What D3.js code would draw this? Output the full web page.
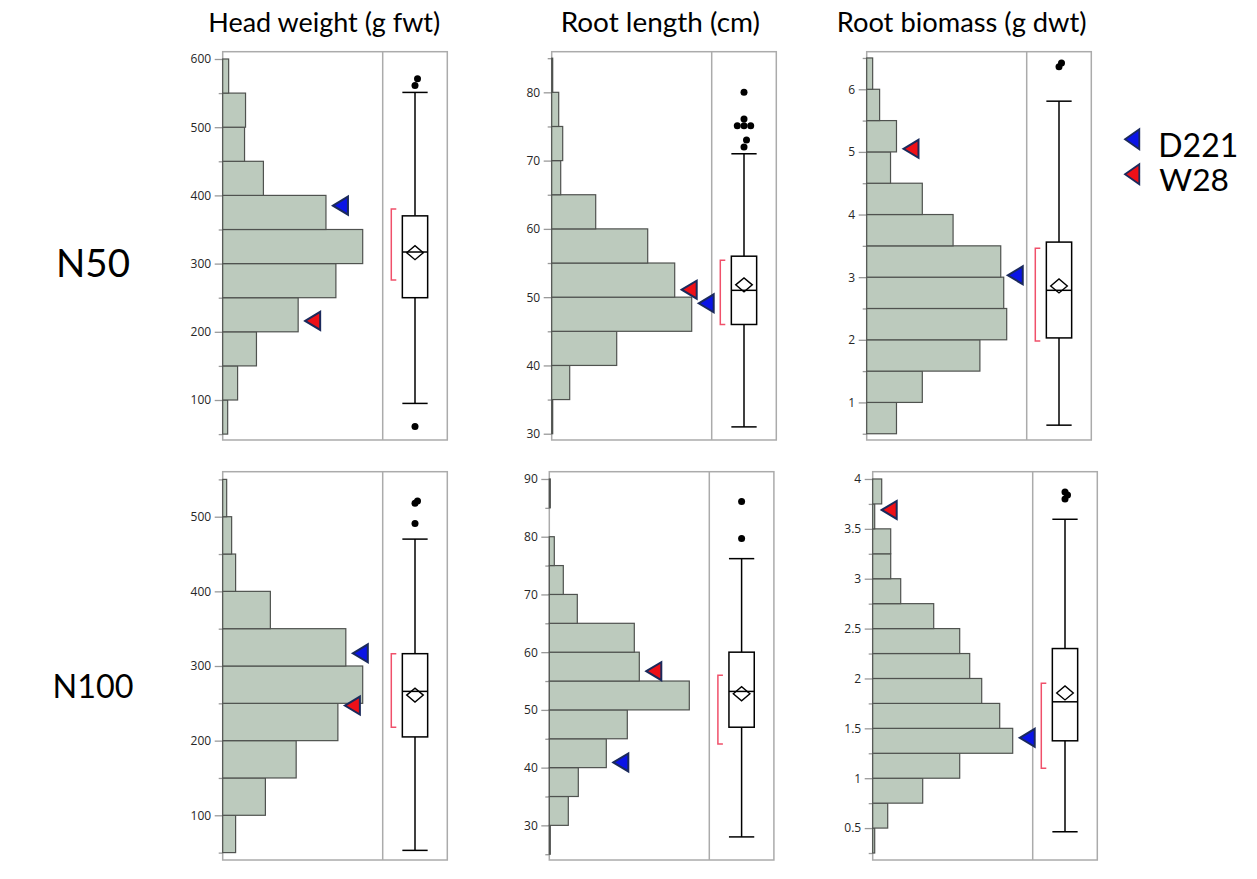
<!DOCTYPE html>
<html>
<head>
<meta charset="utf-8">
<script src="https://cdn.jsdelivr.net/npm/d3@7"></script>
<style>
  body { margin: 0; background: #fff; }
  svg { display: block; }
</style>
</head>
<body>
<svg id="chart" width="1257" height="879"></svg>
<script>
// ---------------- data ----------------
const traits = ["Head weight (g fwt)", "Root length (cm)", "Root biomass (g dwt)"];
const treatments = ["N50", "N100"];
const lineNames = ["D221", "W28"];

// histogram bins: [lower edge of first bin, bin width] and counts per bin
const headN50Bins = [50, 50];
const headN50Counts = [5, 15, 34, 76, 114, 141, 104, 41, 22, 23, 6];
const rootLenN50Bins = [30, 5];
const rootLenN50Counts = [1, 18, 65, 140, 123, 96, 44, 9, 11, 7, 1];
const rootMassN50Bins = [0.5, 0.5];
const rootMassN50Counts = [30, 56, 114, 141, 138, 135, 87, 56, 24, 30, 13, 6];
const headN100Bins = [50, 50];
const headN100Counts = [13, 43, 74, 116, 141, 124, 48, 13, 9, 4];
const rootLenN100Bins = [25, 5];
const rootLenN100Counts = [1, 19, 29, 57, 78, 140, 90, 85, 28, 14, 5, 0, 1];
const rootMassN100Bins = [0.25, 0.25];
const rootMassN100Counts = [2, 15, 50, 87, 140, 127, 109, 97, 87, 61, 28, 18, 18, 2, 9];

// axis tick labels
const headN50Ticks = [100, 200, 300, 400, 500, 600];
const rootLenN50Ticks = [30, 40, 50, 60, 70, 80];
const rootMassN50Ticks = [1, 2, 3, 4, 5, 6];
const headN100Ticks = [100, 200, 300, 400, 500];
const rootLenN100Ticks = [30, 40, 50, 60, 70, 80, 90];
const rootMassN100Ticks = [0.5, 1, 1.5, 2, 2.5, 3, 3.5, 4];

// box plots: [lower whisker, Q1, median, Q3, upper whisker]
const headN50Box = [95, 250, 317, 370, 551];
const rootLenN50Box = [31, 46, 51, 56, 71];
const rootMassN50Box = [0.637, 2.03, 2.79, 3.56, 5.81];
const headN100Box = [53, 205, 266, 316.5, 470];
const rootLenN100Box = [28, 47, 53.2, 60, 76.2];
const rootMassN100Box = [0.463, 1.375, 1.766, 2.30, 3.596];

// means
const headN50Mean = 316, rootLenN50Mean = 51.8, rootMassN50Mean = 2.86;
const headN100Mean = 261, rootLenN100Mean = 52.8, rootMassN100Mean = 1.855;

// shortest half (densest 50%) brackets: [low, high]
const headN50Short = [276, 380];
const rootLenN50Short = [46, 55.4];
const rootMassN50Short = [1.98, 3.46];
const headN100Short = [218, 316.5];
const rootLenN100Short = [44.1, 56];
const rootMassN100Short = [1.10, 1.953];

// outliers
const headN50Outliers = [61, 561, 571];
const rootLenN50Outliers = [72, 73, 75.1, 75.1, 75.1, 76.1, 80];
const rootMassN50Outliers = [6.36, 6.42];
const headN100Outliers = [491, 518, 521];
const rootLenN100Outliers = [79.7, 86.1];
const rootMassN100Outliers = [3.80, 3.84, 3.87];

// values of the two parental lines: [D221, W28]
const headN50Lines = [385, 216];
const rootLenN50Lines = [49.1, 51.1];
const rootMassN50Lines = [3.03, 5.05];
const headN100Lines = [317, 247];
const rootLenN100Lines = [40.9, 56.7];
const rootMassN100Lines = [1.405, 3.69];

// ---------------- layout ----------------
const lineFill = ["#0a14e6", "#ee1018"];
const lineStroke = "#1b2a5c";
const barFill = "#bccabd";
const barStroke = "#4f524f";
const frameColor = "#ababab";
const bracketColor = "#f0506a";

const panelH = 388.3, histW = 160, boxW = 64.6;
const rowTop = [51.7, 471.7];
const colLeft = [[222.7, 551.7, 866.7], [222.7, 549.3, 872.7]];
const yDomains = [
  [[41.35, 610.7], [29.08, 85.95], [0.40, 6.60]],
  [[40.1, 560.3], [24.0, 91.26], [0.18, 4.073]]
];

const panels = [
  [
    { bins: headN50Bins, counts: headN50Counts, ticks: headN50Ticks, box: headN50Box, mean: headN50Mean, short: headN50Short, out: headN50Outliers, lines: headN50Lines },
    { bins: rootLenN50Bins, counts: rootLenN50Counts, ticks: rootLenN50Ticks, box: rootLenN50Box, mean: rootLenN50Mean, short: rootLenN50Short, out: rootLenN50Outliers, lines: rootLenN50Lines },
    { bins: rootMassN50Bins, counts: rootMassN50Counts, ticks: rootMassN50Ticks, box: rootMassN50Box, mean: rootMassN50Mean, short: rootMassN50Short, out: rootMassN50Outliers, lines: rootMassN50Lines }
  ],
  [
    { bins: headN100Bins, counts: headN100Counts, ticks: headN100Ticks, box: headN100Box, mean: headN100Mean, short: headN100Short, out: headN100Outliers, lines: headN100Lines },
    { bins: rootLenN100Bins, counts: rootLenN100Counts, ticks: rootLenN100Ticks, box: rootLenN100Box, mean: rootLenN100Mean, short: rootLenN100Short, out: rootLenN100Outliers, lines: rootLenN100Lines },
    { bins: rootMassN100Bins, counts: rootMassN100Counts, ticks: rootMassN100Ticks, box: rootMassN100Box, mean: rootMassN100Mean, short: rootMassN100Short, out: rootMassN100Outliers, lines: rootMassN100Lines }
  ]
];

const svg = d3.select("#chart");

// left-pointing triangle with its tip at the origin
function triPath(w, h) {
  return `M0,0L${w},${-h / 2}L${w},${h / 2}Z`;
}

// scale a text's font size so that it spans the given width
function fitWidth(sel, target) {
  const w = sel.node().getComputedTextLength();
  const fs = parseFloat(sel.attr("font-size"));
  sel.attr("font-size", (fs * target / w).toFixed(2));
}

const fmt = d3.format("~g");

panels.forEach((row, ri) => {
  row.forEach((p, ci) => {
    const left = colLeft[ri][ci];
    const top = rowTop[ri];
    const g = svg.append("g").attr("transform", `translate(${left},${top})`);

    const y = d3.scaleLinear().domain(yDomains[ri][ci]).range([panelH, 0]);
    const x = d3.scaleLinear().domain([0, d3.max(p.counts) / 0.875]).range([0, histW]);

    const [b0, bw] = p.bins;
    const bins = p.counts.map((c, i) => ({ lo: b0 + i * bw, hi: b0 + (i + 1) * bw, c }));

    // frame and divider
    g.append("rect")
      .attr("x", 0).attr("y", 0).attr("width", histW + boxW).attr("height", panelH)
      .attr("fill", "none").attr("stroke", frameColor).attr("stroke-width", 1.5);
    g.append("line")
      .attr("x1", histW).attr("x2", histW).attr("y1", 0).attr("y2", panelH)
      .attr("stroke", frameColor).attr("stroke-width", 1.5);

    // minor ticks halfway between labelled ticks
    const step = p.ticks[1] - p.ticks[0];
    const dom = y.domain();
    const minor = [p.ticks[0] - step / 2, ...p.ticks.map(t => t + step / 2)]
      .filter(v => v >= dom[0] && v <= dom[1]);

    const minorAxis = g.append("g").call(d3.axisLeft(y).tickValues(minor).tickSize(4).tickFormat(""));
    minorAxis.select(".domain").remove();
    minorAxis.selectAll("line").attr("stroke", "#9a9a9a").attr("stroke-width", 1.3);

    const axis = g.append("g").call(d3.axisLeft(y).tickValues(p.ticks).tickSize(8).tickPadding(3.5).tickFormat(fmt));
    axis.select(".domain").remove();
    axis.selectAll("line").attr("stroke", "#9a9a9a").attr("stroke-width", 1.3);
    axis.selectAll("text")
      .attr("font-family", "'Open Sans', sans-serif")
      .attr("font-size", 12)
      .attr("fill", "#262626");

    // histogram bars
    g.selectAll("rect.bar").data(bins.filter(d => d.c > 0)).enter().append("rect")
      .attr("class", "bar")
      .attr("x", x(0))
      .attr("y", d => y(d.hi))
      .attr("width", d => x(d.c) - x(0))
      .attr("height", d => y(d.lo) - y(d.hi))
      .attr("fill", barFill)
      .attr("stroke", barStroke)
      .attr("stroke-width", 1.2);

    // parental line markers, placed just right of the bar holding their value
    p.lines.forEach((v, li) => {
      const bin = bins.find(d => v >= d.lo && v < d.hi);
      const tipX = x(bin ? bin.c : 0) + 7;
      g.append("path")
        .attr("d", triPath(15, 18))
        .attr("transform", `translate(${tipX},${y(v)})`)
        .attr("fill", lineFill[li])
        .attr("stroke", lineStroke)
        .attr("stroke-width", 2)
        .attr("stroke-linejoin", "miter");
    });

    // box plot
    const cx = histW + boxW / 2;
    const bwid = 25.3;
    const [lw, q1, med, q3, hw] = p.box;
    const bg = g.append("g").attr("stroke", "#000").attr("stroke-width", 1.5);
    bg.append("line").attr("x1", cx).attr("x2", cx).attr("y1", y(hw)).attr("y2", y(q3));
    bg.append("line").attr("x1", cx).attr("x2", cx).attr("y1", y(q1)).attr("y2", y(lw));
    [lw, hw].forEach(v => bg.append("line")
      .attr("x1", cx - bwid / 2).attr("x2", cx + bwid / 2).attr("y1", y(v)).attr("y2", y(v)));
    bg.append("rect")
      .attr("x", cx - bwid / 2).attr("y", y(q3)).attr("width", bwid).attr("height", y(q1) - y(q3))
      .attr("fill", "#fff");
    // mean diamond
    const my = y(p.mean);
    bg.append("path")
      .attr("d", `M${cx - 8.3},${my}L${cx},${my - 7}L${cx + 8.3},${my}L${cx},${my + 7}Z`)
      .attr("fill", "#fff").attr("stroke-width", 1.4);
    bg.append("line")
      .attr("x1", cx - bwid / 2).attr("x2", cx + bwid / 2).attr("y1", y(med)).attr("y2", y(med));

    // shortest half bracket
    const bx = histW + 8.6;
    g.append("path")
      .attr("d", `M${bx + 5},${y(p.short[1])}H${bx}V${y(p.short[0])}H${bx + 5}`)
      .attr("fill", "none").attr("stroke", bracketColor).attr("stroke-width", 1.5);

    // outliers: repeated values are set side by side, close ones nudged apart
    const sorted = p.out.slice().sort((a, b) => a - b);
    const counts = d3.rollup(sorted, v => v.length, d => d);
    const seen = new Map();
    let prevY = null, prevShift = 0;
    const pts = sorted.map(v => {
      const n = counts.get(v);
      const k = seen.get(v) || 0;
      seen.set(v, k + 1);
      let dx = 0;
      if (n > 1) {
        dx = (k - (n - 1) / 2) * 6.7;
      } else if (prevY !== null && Math.abs(prevY - y(v)) < 7 && prevShift === 0) {
        dx = 2.5;
      }
      prevY = y(v);
      prevShift = n > 1 ? 1 : dx;
      return { v, dx };
    });
    g.selectAll("circle.out").data(pts).enter().append("circle")
      .attr("class", "out")
      .attr("cx", d => cx + d.dx)
      .attr("cy", d => y(d.v))
      .attr("r", 3.5)
      .attr("fill", "#000");
  });
});

// column titles
const titleLeft = [208.3, 560.7, 836.7];
const titleWidth = [232, 199.3, 250];
traits.forEach((t, i) => {
  const txt = svg.append("text")
    .attr("x", titleLeft[i]).attr("y", 31.7)
    .attr("font-family", "Lato, 'Open Sans', sans-serif")
    .attr("font-size", 26)
    .attr("fill", "#000")
    .text(t);
  fitWidth(txt, titleWidth[i]);
});

// row labels
const rowLabelLeft = [56, 52.5];
const rowLabelBase = [276.7, 698];
const rowLabelWidth = [74, 81];
treatments.forEach((t, i) => {
  const txt = svg.append("text")
    .attr("x", rowLabelLeft[i]).attr("y", rowLabelBase[i])
    .attr("font-family", "Lato, 'Open Sans', sans-serif")
    .attr("font-size", 38)
    .attr("fill", "#000")
    .text(t);
  fitWidth(txt, rowLabelWidth[i]);
});

// legend
const legY = [139.3, 174.3];
const legTextBase = [156.7, 191];
const legTextLeft = [1158.3, 1159.3];
const legTextWidth = [80, 69.7];
lineNames.forEach((name, i) => {
  svg.append("path")
    .attr("d", triPath(14.3, 20))
    .attr("transform", `translate(1125,${legY[i]})`)
    .attr("fill", lineFill[i])
    .attr("stroke", lineStroke)
    .attr("stroke-width", 1.8);
  const txt = svg.append("text")
    .attr("x", legTextLeft[i]).attr("y", legTextBase[i])
    .attr("font-family", "Lato, 'Open Sans', sans-serif")
    .attr("font-size", 32)
    .attr("fill", "#000")
    .text(name);
  fitWidth(txt, legTextWidth[i]);
});
</script>
</body>
</html>
